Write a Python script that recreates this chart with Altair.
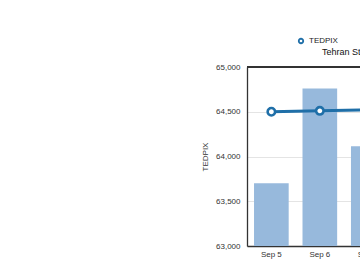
import altair as alt
import pandas as pd

days = ["Sep 5", "Sep 6", "Sep 7", "Sep 8", "Sep 9"]
bar_values = [63700, 64760, 64115, 64300, 64450]
line_values = [64500, 64510, 64520, 64530, 64540]
series_name = ["TEDPIX"] * 5

df = pd.DataFrame({"day": days, "bar": bar_values, "line": line_values, "series": series_name})

font = "Liberation Sans"
FRAME = "#333333"

x = alt.X("day:N", sort=days, title=None,
          scale=alt.Scale(paddingInner=0.285, paddingOuter=0.145, range=[0, 242.6]),
          axis=alt.Axis(labelAngle=0, ticks=False, domain=True, domainColor=FRAME,
                        domainWidth=1.3, labelFontSize=8, labelColor="#333",
                        labelFont=font, labelPadding=4))
yscale = alt.Scale(domain=[63000, 65000], nice=False, zero=False)
yaxis = alt.Axis(values=[63000, 63500, 64000, 64500, 65000], format=",.0f", ticks=False,
                 domain=True, domainColor=FRAME, domainWidth=1.3,
                 labelFontSize=8, labelColor="#333", labelFont=font,
                 labelPadding=7, title="TEDPIX", titleFontSize=8, titleFont=font,
                 titleFontWeight="normal", titleColor="#333", titlePadding=6,
                 gridColor="#e4e4e4")

bars = alt.Chart(df).mark_bar(color="#97b9dc").encode(
    x=x, y=alt.Y("bar:Q", scale=yscale, axis=yaxis), y2=alt.datum(63000))

top = alt.Chart(df).mark_rule(color=FRAME, strokeWidth=1.3).encode(
    y=alt.datum(65000, scale=yscale, axis=yaxis))

line = alt.Chart(df).mark_line(color="#1f6fa8", strokeWidth=3).encode(
    x=x, y=alt.Y("line:Q", scale=yscale, axis=yaxis))

pts = alt.Chart(df).mark_point(filled=False, fill="white", fillOpacity=1,
                               strokeWidth=2.6, size=55, opacity=1).encode(
    x=x, y=alt.Y("line:Q", scale=yscale, axis=yaxis),
    stroke=alt.Stroke("series:N", scale=alt.Scale(range=["#1f6fa8"]),
                      legend=alt.Legend(title=None, orient="none", legendX=50, legendY=-30,
                                        labelFontSize=8, labelFont=font, labelColor="#222",
                                        symbolType="circle", symbolSize=20,
                                        symbolStrokeWidth=1.8, symbolFillColor="white")))

chart = alt.layer(bars, top, line, pts).properties(
    width=113, height=179,
    autosize=alt.AutoSizeParams(type="none"),
    padding={"left": 247, "top": 67, "right": 0, "bottom": 14},
    title=alt.TitleParams("Tehran Stock Exchange", anchor="start", frame="group",
                          dx=75, dy=43, offset=14, baseline="bottom", fontSize=9, font=font,
                          fontWeight="normal", color="#111"),
).configure_view(strokeWidth=0).configure(background="white")

chart.save("out.html", embed_options={"renderer": "svg", "actions": False})
